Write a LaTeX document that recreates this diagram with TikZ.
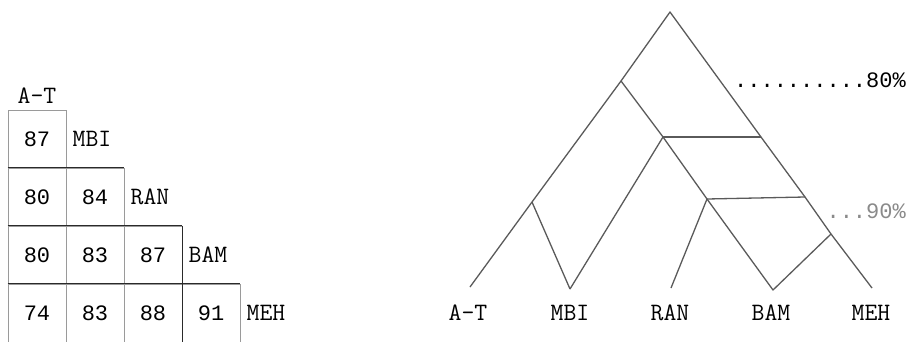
\documentclass[tikz,border=0pt]{standalone}
\usepackage{fontspec}
\newfontfamily\typewr{Liberation Mono}
\usetikzlibrary{positioning}
\definecolor{cellgray}{HTML}{9A9A9A}
\definecolor{stepdark}{HTML}{2A2A2A}
\definecolor{branchgray}{HTML}{5A5A5A}
\definecolor{lvlgray}{HTML}{8A8A8A}
\newcommand{\tyfont}{\typewr\fontsize{22}{24}\selectfont}
\newcommand{\slabfont}{\ttfamily\fontsize{25}{27}\selectfont}
\tikzset{
  % matrix cells: thin grey frame, number in the middle
  cell/.style   = {rectangle, draw=cellgray, line width=0.9pt, minimum width=58pt,
                   minimum height=58pt, inner sep=0pt, font=\tyfont},
  lang/.style   = {inner sep=0pt, text height=14pt, text depth=0pt, font=\slabfont},
  stair/.style  = {stepdark, line width=1.6pt},
  branch/.style = {branchgray, line width=1.3pt, line join=round},
  level/.style  = {inner sep=0pt, anchor=base east, font=\tyfont},
}

\begin{document}
\begin{tikzpicture}[x=1pt, y=-1pt, node distance=6pt]
\useasboundingbox (0,0) rectangle (910,341);

% --- similarity matrix ------------------------------------------------
\foreach \r/\c/\v in {1/1/87, 2/1/80, 2/2/84, 3/1/80, 3/2/83, 3/3/87,
                      4/1/74, 4/2/83, 4/3/88, 4/4/91}
  {\node[cell] (c\r\c) at ({58*\c-21}, {58*\r+81}) {\v};}

\draw[stair] (c21.north west) -- (c22.north east);
\draw[stair] (c31.north west) -- (c33.north east);
\draw[stair] (c41.north west) -- (c44.north east);
\draw[stair] (c33.north east) -- (c43.south east);

\node[lang, above=of c11] (mAT)  {A-T};
\node[lang, right=of c11] (mMBI) {MBI};
\node[lang, right=of c22] (mRAN) {RAN};
\node[lang, right=of c33] (mBAM) {BAM};
\node[lang, right=of c44] (mMEH) {MEH};

% --- tree --------------------------------------------------------------
\coordinate (root) at (670,12);
\coordinate (n1)   at (621,81);
\coordinate (n2)   at (663,137);
\coordinate (n3)   at (707,199);
\coordinate (n4)   at (532,202);
\coordinate (r1)   at (761,137);
\coordinate (r2)   at (805,197);
\coordinate (r3)   at (831,234);
\coordinate (lAT)  at (470,287);
\coordinate (lMBI) at (570,289);
\coordinate (lRAN) at (671,288);
\coordinate (lBAM) at (773,290);
\coordinate (lMEH) at (872,288);

\draw[branch] (lAT) -- (n4) -- (n1) -- (root) -- (r1) -- (r2) -- (r3) -- (lMEH);
\draw[branch] (n1) -- (n2) -- (n3) -- (lBAM) -- (r3);
\foreach \a/\b in {n4/lMBI, n2/lMBI, n3/lRAN, n2/r1, n3/r2} {\draw[branch] (\a) -- (\b);}

\node[lang] (tAT)  at (468,313) {A-T};
\node[lang] (tMBI) at (570,313) {MBI};
\node[lang] (tRAN) at (670,313) {RAN};
\node[lang] (tBAM) at (771,313) {BAM};
\node[lang] (tMEH) at (871,313) {MEH};

% --- levels -------------------------------------------------------------
\node[level] (l80) at (906,87) {..........80\%};
\node[level, text=lvlgray] (l90) at (906,218) {...90\%};
\end{tikzpicture}
\end{document}
